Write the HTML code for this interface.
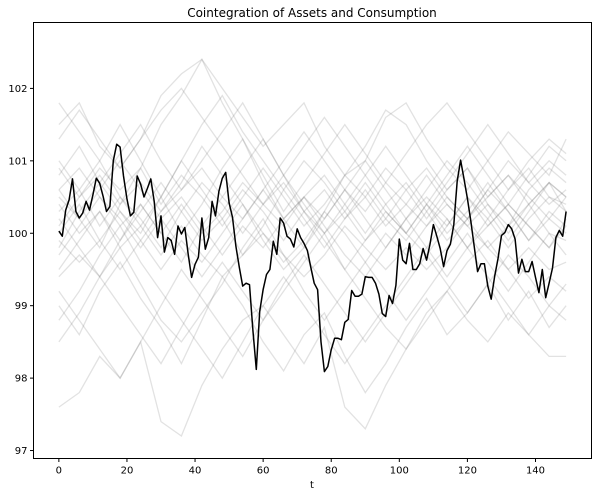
<!DOCTYPE html>
<html><head><meta charset="utf-8">
<style>
html,body{margin:0;padding:0;background:#fff;}
svg{display:block;font-family:"DejaVu Sans","Liberation Sans",sans-serif;}
</style></head>
<body>
<svg id="chart" width="601" height="496" viewBox="0 0 601 496" xmlns="http://www.w3.org/2000/svg">
<rect x="0" y="0" width="601" height="496" fill="#fff"/>
<text x="312" y="17" font-size="12" text-anchor="middle" fill="#000">Cointegration of Assets and Consumption</text>
<g id="gray"></g>
<g id="main"></g>
<g id="axes"></g>
<rect x="33.5" y="22.5" width="558" height="436" fill="none" stroke="#000" stroke-width="1"/>
<text x="312" y="488" font-size="10" text-anchor="middle" fill="#000">t</text>
</svg>
<script>
const xTicks = [0,20,40,60,80,100,120,140];
const yTicks = [97,98,99,100,101,102];
const mainSeries = [100.03,99.96,100.32,100.46,100.75,100.30,100.21,100.28,100.44,100.32,
100.53,100.76,100.69,100.51,100.30,100.37,101.00,101.23,101.19,100.79,
100.47,100.24,100.29,100.79,100.68,100.50,100.62,100.75,100.44,99.94,
100.24,99.74,99.94,99.90,99.71,100.10,99.99,100.08,99.71,99.39,
99.57,99.67,100.21,99.78,99.94,100.44,100.24,100.58,100.76,100.84,
100.42,100.22,99.82,99.53,99.27,99.31,99.29,98.66,98.12,98.92,
99.22,99.43,99.50,99.89,99.71,100.21,100.14,99.96,99.92,99.81,
100.06,99.94,99.86,99.76,99.53,99.31,99.22,98.50,98.09,98.16,
98.39,98.55,98.55,98.53,98.77,98.81,99.21,99.13,99.13,99.16,
99.40,99.39,99.39,99.31,99.16,98.89,98.85,99.14,99.03,99.28,
99.92,99.63,99.58,99.86,99.50,99.50,99.58,99.79,99.63,99.85,
100.12,99.96,99.79,99.54,99.76,99.85,100.12,100.72,101.01,100.75,
100.48,100.17,99.82,99.47,99.58,99.58,99.27,99.09,99.40,99.65,
99.97,100.01,100.12,100.06,99.92,99.45,99.64,99.47,99.47,99.61,
99.39,99.18,99.50,99.11,99.31,99.52,99.94,100.04,99.96,100.30];
const grayT = [0,6,12,18,24,30,36,42,48,54,60,66,72,78,84,90,96,102,108,114,120,126,132,138,144,149];
const g1=[101.5,101.8,101.2,100.9,101.3,101.9,102.2,102.4,102.0,101.6,101.2,101.5,101.8,101.2,100.8,101.0,101.6,101.8,101.3,100.9,100.6,101.0,101.4,101.1,100.8,101.3];
const g2=[97.6,97.8,98.3,98.0,98.5,97.4,97.2,97.9,98.4,98.8,99.0,98.6,98.2,98.7,97.6,97.3,97.9,98.4,98.9,99.2,98.8,98.5,98.9,98.6,98.3,98.3];
const g3=[100.5,100.2,99.8,100.4,100.9,101.5,101.9,102.4,101.8,101.3,100.7,100.2,99.8,100.3,100.8,101.2,101.7,101.5,101.0,100.6,100.9,100.4,100.1,100.6,100.9,100.7];
const g4=[99.0,98.6,99.2,99.6,99.1,98.7,98.2,98.8,99.4,99.0,98.5,98.1,98.6,98.9,98.3,97.8,98.2,98.7,99.1,98.6,98.9,99.3,98.8,99.2,98.7,99.0];
const g5=[100.8,101.2,100.7,100.3,100.0,100.5,101.0,100.6,100.2,99.7,100.1,100.6,101.0,100.7,100.3,99.9,100.2,100.6,100.9,100.5,100.2,100.6,101.0,100.7,100.4,100.6];
const g6=[99.5,99.9,100.3,99.8,99.3,98.8,98.5,98.9,99.3,99.8,100.2,99.7,99.2,98.8,99.2,99.6,99.2,98.8,99.2,99.6,100.0,99.6,99.2,99.6,100.0,99.7];
const g7=[101.0,100.6,101.0,101.5,101.0,100.5,100.0,100.4,100.9,101.3,100.8,100.3,100.7,101.1,101.5,101.1,100.7,101.1,101.5,101.8,101.4,101.0,100.6,101.0,101.3,101.1];
const g8=[98.5,98.9,99.4,99.0,98.6,98.2,98.7,99.2,99.6,99.2,98.8,99.2,99.6,100.0,99.5,99.1,98.7,98.4,98.8,99.2,99.6,99.9,99.5,99.1,99.4,99.2];
const g9=[100.2,99.8,99.4,99.9,100.4,100.0,99.6,100.1,100.5,100.9,101.3,100.8,100.3,99.9,99.5,99.9,100.3,100.0,99.7,100.1,100.5,100.2,99.8,100.2,100.5,100.3];
const g10=[99.8,100.3,100.7,101.1,101.5,101.0,100.6,101.0,101.4,101.8,101.3,100.8,100.4,100.0,100.4,100.8,101.2,100.8,100.4,100.0,100.3,100.7,100.3,99.9,100.3,100.1];
const g11=[101.8,101.4,101.0,100.5,100.1,100.5,101.0,101.5,101.9,101.4,101.0,100.6,100.2,99.8,100.2,100.6,100.2,99.9,100.3,100.7,101.1,101.5,101.1,100.7,101.0,100.8];
const g12=[99.2,98.8,98.4,98.0,98.5,99.0,99.5,99.1,98.7,98.3,98.8,99.3,99.7,99.3,98.9,98.5,98.9,99.3,99.7,99.3,98.9,99.3,99.7,99.4,99.0,99.3];
const g13=[100.0,100.4,99.9,99.5,99.9,100.3,100.7,101.2,100.8,100.4,99.9,99.5,99.8,100.2,100.6,101.0,100.6,100.2,99.8,99.4,99.8,100.2,100.6,100.9,100.5,100.4];
const g14=[98.8,99.2,99.7,100.1,99.6,99.2,98.8,98.4,98.0,98.5,99.0,99.4,99.0,98.6,98.2,98.6,99.0,99.4,99.8,100.2,99.8,99.4,99.0,98.6,99.0,98.8];
const g15=[100.6,100.2,100.6,101.0,100.6,100.2,99.8,99.4,99.8,100.2,100.6,101.0,101.4,101.0,100.6,100.2,99.8,100.2,100.6,101.0,100.7,100.3,99.9,100.3,100.7,100.5];
const g16=[101.3,101.7,101.3,100.9,101.3,101.7,102.0,101.6,101.2,100.8,100.4,100.8,101.2,101.6,101.2,100.8,100.4,100.0,100.4,100.8,101.2,100.8,100.4,100.8,101.2,101.0];
const g17=[100.3,100.6,100.1,100.5,100.2,99.8,100.3,100.7,100.4,100.0,100.4,100.1,100.5,100.8,100.4,100.0,100.4,100.7,100.3,99.9,100.2,100.6,100.3,99.9,100.2,100.0];
const g18=[99.7,100.1,100.5,100.2,99.8,100.2,100.5,100.1,99.7,100.1,99.8,100.2,100.5,100.1,99.7,99.4,99.8,100.2,100.5,100.2,99.8,100.1,100.4,100.1,99.8,100.1];
const g19=[100.9,100.5,100.9,100.6,100.9,100.4,100.8,100.5,100.1,100.5,100.9,100.5,100.1,100.4,100.8,100.5,100.9,100.6,100.2,100.6,100.9,100.5,100.8,100.4,100.7,100.5];
const g20=[99.9,99.6,99.9,100.3,99.9,99.5,99.9,99.6,100.0,100.4,100.0,99.6,99.9,100.3,100.0,99.6,100.0,99.7,100.1,100.4,100.1,99.8,100.1,100.4,100.0,99.9];
const g21=[100.4,100.0,100.3,99.9,100.3,100.7,100.3,99.9,100.2,100.6,100.3,99.9,100.3,100.6,100.2,100.5,100.1,100.4,100.8,100.4,100.1,100.4,100.0,100.4,100.7,100.3];
const g22=[99.4,99.7,99.4,99.8,100.1,99.7,100.1,99.7,99.4,99.7,100.0,99.7,99.4,99.7,100.1,99.8,99.5,99.8,99.5,99.8,100.2,99.8,99.5,99.8,99.5,99.6];
const g23=[100.1,100.5,100.8,100.4,100.7,100.3,100.6,100.9,100.5,100.2,100.6,100.2,100.5,100.2,100.6,100.3,100.7,100.4,100.1,100.5,100.2,100.5,100.8,100.5,100.2,100.5];
const g24=[100.6,100.9,100.5,100.1,100.4,100.0,100.4,100.0,100.3,100.7,100.4,100.7,100.3,100.0,100.3,100.7,100.3,100.0,100.4,100.1,100.5,100.1,100.4,100.1,99.8,100.2];
const graySeries=[g1,g2,g3,g4,g5,g6,g7,g8,g9,g10,g11,g12,g13,g14,g15,g16,g17,g18,g19,g20,g21,g22,g23,g24];

const NS="http://www.w3.org/2000/svg";
const L=33.5,R=591.5,T=22.5,B=458.5;
const xMin=-7.45,xMax=156.45,yMin=96.89,yMax=102.91;
function xs(v){return L+(v-xMin)/(xMax-xMin)*(R-L);}
function ys(v){return B-(v-yMin)/(yMax-yMin)*(B-T);}

const gG=document.getElementById('gray');
graySeries.forEach(function(s,i){
  const p=document.createElementNS(NS,'polyline');
  p.setAttribute('points',s.map(function(v,j){return xs(grayT[j]).toFixed(1)+','+ys(v).toFixed(1);}).join(' '));
  p.setAttribute('fill','none');p.setAttribute('stroke','#707070');p.setAttribute('stroke-opacity','0.2');p.setAttribute('stroke-width','1.3');
  
  
  gG.appendChild(p);
});
const mp=document.createElementNS(NS,'polyline');
mp.setAttribute('points',mainSeries.map(function(v,i){return xs(i).toFixed(1)+','+ys(v).toFixed(1);}).join(' '));
mp.setAttribute('fill','none');mp.setAttribute('stroke','#000');mp.setAttribute('stroke-width','1.5');mp.setAttribute('stroke-linejoin','round');


document.getElementById('main').appendChild(mp);

const ax=document.getElementById('axes');
xTicks.forEach(function(t){
  const x=xs(t);
  const l=document.createElementNS(NS,'line');
  l.setAttribute('x1',x);l.setAttribute('x2',x);l.setAttribute('y1',B);l.setAttribute('y2',B+3.5);l.setAttribute('stroke','#000');
  
  
  ax.appendChild(l);
  const tx=document.createElementNS(NS,'text');
  tx.setAttribute('x',x);tx.setAttribute('y',B+15);tx.setAttribute('font-size','10');tx.setAttribute('text-anchor','middle');
  tx.textContent=t;
  
  
  ax.appendChild(tx);
});
yTicks.forEach(function(t){
  const y=ys(t);
  const l=document.createElementNS(NS,'line');
  l.setAttribute('x1',L-3.5);l.setAttribute('x2',L);l.setAttribute('y1',y);l.setAttribute('y2',y);l.setAttribute('stroke','#000');
  
  
  ax.appendChild(l);
  const tx=document.createElementNS(NS,'text');
  tx.setAttribute('x',L-6);tx.setAttribute('y',y+3.5);tx.setAttribute('font-size','10');tx.setAttribute('text-anchor','end');
  tx.textContent=t;
  
  
  ax.appendChild(tx);
});
</script>
</body></html>
